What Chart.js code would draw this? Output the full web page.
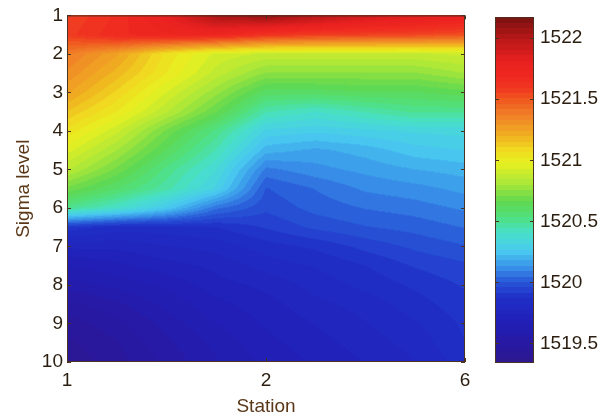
<!DOCTYPE html>
<html>
<head>
<meta charset="utf-8">
<title>Sound speed by sigma level</title>
<script src="https://cdn.jsdelivr.net/npm/chart.js@4.4.1/dist/chart.umd.min.js"></script>
<style>
  html, body { margin: 0; padding: 0; background: #fff; }
  #wrap { position: relative; width: 605px; height: 416px; overflow: hidden; }
  #main { position: absolute; left: 0; top: 0; }
  #bar { position: absolute; left: 480px; top: 0; }
</style>
</head>
<body>
<div id="wrap">
  <canvas id="main" width="605" height="416"></canvas>
  <canvas id="bar" width="125" height="416"></canvas>
</div>
<script>
// grid positions along the section (axis units) and sigma levels
const stationPos = [0, 0.25, 0.5, 0.75, 1, 1.25, 1.5, 1.75, 2];
const sigmaLevels = [1, 1.5, 2, 2.5, 3, 3.5, 4, 4.5, 5, 5.5, 6, 6.5, 7, 7.5, 8, 8.5, 9, 9.5, 10];

// axis ticks
const stationTicks = [0, 1, 2];
const stationLabels = ['1', '2', '6'];
const sigmaTicks = [1, 2, 3, 4, 5, 6, 7, 8, 9, 10];
const barTicks = [1519.5, 1520, 1520.5, 1521, 1521.5, 1522];
const barLabels = ['1519.5', '1520', '1520.5', '1521', '1521.5', '1522'];
const barMin = 1519.34;
const barMax = 1522.17;

// sound speed, one row per sigma level, one value per grid column
const speed = [
  [1521.55, 1521.65, 1521.8, 1522.05, 1522.12, 1522.02, 1521.92, 1521.85, 1521.8],  // 1
  [1521.58, 1521.67, 1521.72, 1521.72, 1521.62, 1521.58, 1521.56, 1521.55, 1521.52], // 1.5
  [1521.38, 1521.25, 1521.05, 1520.92, 1520.88, 1520.88, 1520.88, 1520.88, 1520.9], // 2
  [1521.32, 1521.18, 1521.02, 1520.87, 1520.75, 1520.75, 1520.75, 1520.75, 1520.8], // 2.5
  [1521.25, 1521.1, 1520.93, 1520.77, 1520.6, 1520.6, 1520.62, 1520.62, 1520.65],   // 3
  [1521.15, 1521.02, 1520.85, 1520.67, 1520.45, 1520.4, 1520.45, 1520.5, 1520.5],   // 3.5
  [1521.05, 1520.9, 1520.7, 1520.52, 1520.3, 1520.28, 1520.3, 1520.32, 1520.33],    // 4
  [1520.95, 1520.8, 1520.62, 1520.44, 1520.2, 1520.17, 1520.2, 1520.25, 1520.27],   // 4.5
  [1520.85, 1520.7, 1520.52, 1520.36, 1520.08, 1520.12, 1520.15, 1520.18, 1520.2],  // 5
  [1520.7, 1520.58, 1520.46, 1520.3, 1520.0, 1520.05, 1520.1, 1520.12, 1520.15],    // 5.5
  [1520.5, 1520.4, 1520.26, 1520.06, 1519.97, 1520.02, 1520.05, 1520.07, 1520.1],   // 6
  [1519.9, 1519.85, 1519.85, 1519.87, 1519.92, 1519.97, 1520.0, 1520.02, 1520.05],  // 6.5
  [1519.75, 1519.75, 1519.78, 1519.8, 1519.85, 1519.88, 1519.93, 1519.97, 1520.0],  // 7
  [1519.65, 1519.68, 1519.72, 1519.75, 1519.8, 1519.83, 1519.87, 1519.92, 1519.95], // 7.5
  [1519.58, 1519.62, 1519.66, 1519.72, 1519.75, 1519.8, 1519.84, 1519.88, 1519.92], // 8
  [1519.5, 1519.55, 1519.62, 1519.68, 1519.72, 1519.77, 1519.8, 1519.85, 1519.9],   // 8.5
  [1519.45, 1519.5, 1519.58, 1519.65, 1519.7, 1519.74, 1519.78, 1519.82, 1519.88],  // 9
  [1519.42, 1519.47, 1519.55, 1519.62, 1519.68, 1519.72, 1519.76, 1519.8, 1519.87], // 9.5
  [1519.4, 1519.45, 1519.53, 1519.6, 1519.66, 1519.7, 1519.74, 1519.78, 1519.85],   // 10
];

// jet-like colormap, quantized to 64 steps
const jetStops = [
  [1519.31, '#301888'], [1519.48, '#2818a0'], [1519.69, '#2020b8'], [1519.88, '#2030c8'],
  [1520.01, '#2858d8'], [1520.12, '#3890e8'], [1520.25, '#48c8f0'], [1520.41, '#48e0c8'],
  [1520.53, '#50e080'], [1520.66, '#60d850'], [1520.82, '#b0e838'], [1520.98, '#e8f020'],
  [1521.09, '#f0d820'], [1521.2, '#f0b020'], [1521.34, '#f08828'], [1521.47, '#f06020'],
  [1521.58, '#f03a20'], [1521.68, '#f02820'], [1521.81, '#e82020'], [1522.0, '#b81818'],
  [1522.17, '#7a1010'],
].map(([v, hex]) => [v, [1, 3, 5].map(i => parseInt(hex.slice(i, i + 2), 16))]);

function colorFor(v) {
  const n = 64;
  const span = barMax - barMin;
  const k = Math.max(0, Math.min(n - 1, Math.floor((v - barMin) / span * n)));
  const q = barMin + (k + 0.5) * span / n;
  let i = 1;
  while (i < jetStops.length - 1 && q > jetStops[i][0]) i++;
  const [v0, c0] = jetStops[i - 1];
  const [v1, c1] = jetStops[i];
  const t = Math.max(0, Math.min(1, (q - v0) / (v1 - v0)));
  return [0, 1, 2].map(j => Math.round(c0[j] + (c1[j] - c0[j]) * t));
}

// index of the grid interval holding v, plus the fraction inside it
function locate(arr, v) {
  let i = 0;
  while (i < arr.length - 2 && v > arr[i + 1]) i++;
  const t = Math.max(0, Math.min(1, (v - arr[i]) / (arr[i + 1] - arr[i])));
  return [i, t];
}

const tickColor = '#2b1e10';
const titleColor = '#5a3818';
const frameColor = '#4a3320';
const font = { family: 'Liberation Sans, Arial, sans-serif', size: 19 };

function drawFrame(ctx, a, inner) {
  ctx.save();
  ctx.strokeStyle = frameColor;
  ctx.lineWidth = 1;
  ctx.strokeRect(a.left + 0.5, a.top + 0.5, a.right - a.left - 1, a.bottom - a.top - 1);
  ctx.beginPath();
  inner.forEach(([x0, y0, x1, y1]) => { ctx.moveTo(x0, y0); ctx.lineTo(x1, y1); });
  ctx.stroke();
  ctx.restore();
}

// interpolated shading of the speed grid, drawn pixel by pixel through the scales
const heatmap = {
  id: 'heatmap',
  beforeDatasetsDraw(chart) {
    const { ctx, chartArea: a, scales: { x, y } } = chart;
    const w = Math.round(a.right - a.left);
    const h = Math.round(a.bottom - a.top);
    const off = document.createElement('canvas');
    off.width = w;
    off.height = h;
    const octx = off.getContext('2d');
    const img = octx.createImageData(w, h);
    const cols = [];
    for (let px = 0; px < w; px++) cols.push(locate(stationPos, x.getValueForPixel(a.left + px + 0.5)));
    for (let py = 0; py < h; py++) {
      const [j, s] = locate(sigmaLevels, y.getValueForPixel(a.top + py + 0.5));
      const r0 = speed[j];
      const r1 = speed[j + 1];
      for (let px = 0; px < w; px++) {
        const [i, t] = cols[px];
        const top = r0[i] + (r0[i + 1] - r0[i]) * t;
        const bot = r1[i] + (r1[i + 1] - r1[i]) * t;
        const c = colorFor(top + (bot - top) * s);
        const o = (py * w + px) * 4;
        img.data[o] = c[0];
        img.data[o + 1] = c[1];
        img.data[o + 2] = c[2];
        img.data[o + 3] = 255;
      }
    }
    octx.putImageData(img, 0, 0);
    ctx.drawImage(off, a.left, a.top);
  },
  afterDatasetsDraw(chart) {
    const { ctx, chartArea: a, scales: { x, y } } = chart;
    const marks = [];
    sigmaTicks.forEach(v => {
      const py = Math.round(y.getPixelForValue(v)) + 0.5;
      marks.push([a.left, py, a.left + 4, py], [a.right - 4, py, a.right, py]);
    });
    stationTicks.forEach(v => {
      const px = Math.round(x.getPixelForValue(v)) + 0.5;
      marks.push([px, a.bottom, px, a.bottom - 4], [px, a.top, px, a.top + 4]);
    });
    drawFrame(ctx, a, marks);
  },
};

const colorbar = {
  id: 'colorbar',
  beforeDatasetsDraw(chart) {
    const { ctx, chartArea: a, scales: { y } } = chart;
    for (let py = Math.floor(a.top); py < a.bottom; py++) {
      const c = colorFor(y.getValueForPixel(py + 0.5));
      ctx.fillStyle = `rgb(${c[0]},${c[1]},${c[2]})`;
      ctx.fillRect(a.left, py, a.right - a.left, 1);
    }
  },
  afterDatasetsDraw(chart) {
    const { ctx, chartArea: a, scales: { y } } = chart;
    const marks = [];
    barTicks.forEach(v => {
      const py = Math.round(y.getPixelForValue(v)) + 0.5;
      marks.push([a.left, py, a.left + 4, py], [a.right - 4, py, a.right, py]);
    });
    drawFrame(ctx, a, marks);
  },
};

const gridPoints = [];
sigmaLevels.forEach((s, j) => stationPos.forEach((p, i) => gridPoints.push({ x: p, y: s, v: speed[j][i] })));

new Chart(document.getElementById('main'), {
  type: 'scatter',
  data: { datasets: [{ data: gridPoints, pointRadius: 0, pointHoverRadius: 0 }] },
  options: {
    responsive: false,
    animation: false,
    devicePixelRatio: 1,
    events: [],
    layout: { padding: { left: 0, top: 11, right: 140, bottom: 0 } },
    plugins: { legend: { display: false }, tooltip: { enabled: false } },
    scales: {
      x: {
        type: 'linear',
        min: 0,
        max: 2,
        afterBuildTicks: s => { s.ticks = stationTicks.map(value => ({ value })); },
        afterFit: s => { s.height = 54; },
        grid: { display: false, drawTicks: false },
        border: { display: false },
        ticks: { callback: (v, i) => stationLabels[i], padding: 7, color: tickColor, font, maxRotation: 0, autoSkip: false },
        title: { display: true, text: 'Station', color: titleColor, font: { ...font, lineHeight: 1 }, padding: 0 },
      },
      y: {
        type: 'linear',
        reverse: true,
        min: 1,
        max: 10,
        afterBuildTicks: s => { s.ticks = sigmaTicks.map(value => ({ value })); },
        afterFit: s => { s.width = 67; },
        grid: { display: false, drawTicks: false },
        border: { display: false },
        ticks: { padding: 4, color: tickColor, font, autoSkip: false },
        title: { display: true, text: 'Sigma level', color: titleColor, font: { ...font, lineHeight: 1 }, padding: { top: 14, bottom: 0 } },
      },
    },
  },
  plugins: [heatmap],
});

new Chart(document.getElementById('bar'), {
  type: 'scatter',
  data: { datasets: [{ data: barTicks.map(v => ({ x: 0.5, y: v })), pointRadius: 0, pointHoverRadius: 0 }] },
  options: {
    responsive: false,
    animation: false,
    devicePixelRatio: 1,
    events: [],
    layout: { padding: { left: 15, top: 11, right: 0, bottom: 53 } },
    plugins: { legend: { display: false }, tooltip: { enabled: false } },
    scales: {
      x: { type: 'linear', display: false, min: 0, max: 1 },
      y: {
        type: 'linear',
        position: 'right',
        min: barMin,
        max: barMax,
        afterBuildTicks: s => { s.ticks = barTicks.map(value => ({ value })); },
        afterFit: s => { s.width = 71; },
        grid: { display: false, drawTicks: false },
        border: { display: false },
        ticks: { callback: (v, i) => barLabels[i], padding: 6, color: tickColor, font, autoSkip: false },
      },
    },
  },
  plugins: [colorbar],
});
</script>
</body>
</html>
